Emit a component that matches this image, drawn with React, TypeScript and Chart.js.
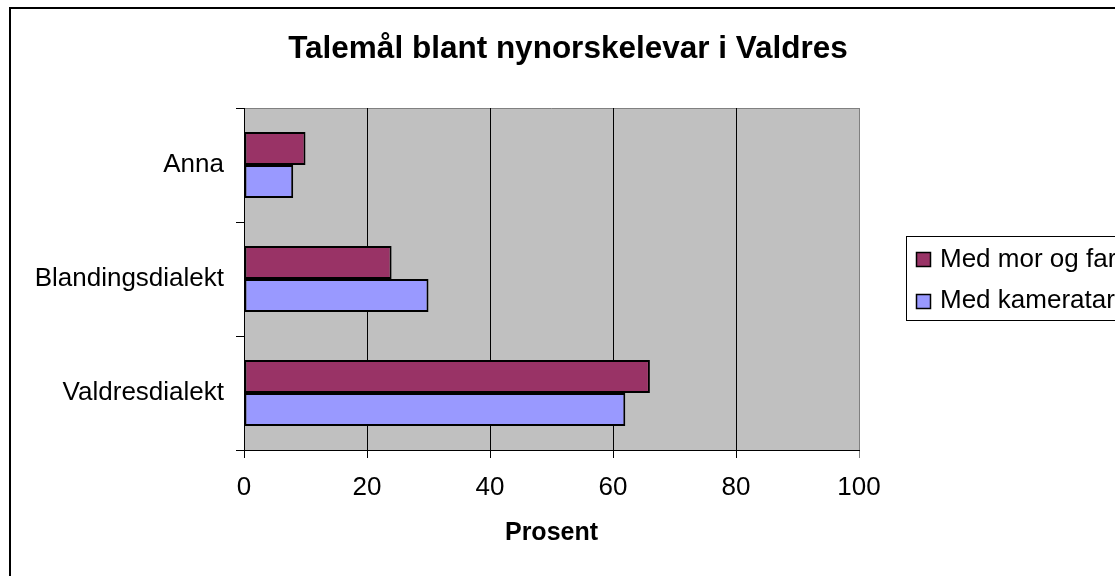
import React, { useEffect, useRef } from 'react';
import { Chart, registerables } from 'chart.js';

Chart.register(...registerables);

const categories = ['Anna', 'Blandingsdialekt', 'Valdresdialekt'];
const seriesNames = ['Med mor og far', 'Med kameratar'];
const morOgFar = [10, 24, 66];
const kameratar = [8, 30, 62];
const xTickValues = [0, 20, 40, 60, 80, 100];
const seriesColors = ['#993366', '#9999FF'];
const chartTitle = 'Talemål blant nynorskelevar i Valdres';
const xAxisTitle = 'Prosent';

const FONT = 'Arial, "Liberation Sans", Helvetica, sans-serif';

const plotBackground = {
  id: 'plotBackground',
  beforeDraw(chart: any) {
    const { ctx, chartArea } = chart;
    ctx.save();
    ctx.fillStyle = '#C0C0C0';
    ctx.fillRect(chartArea.left, chartArea.top, chartArea.right - chartArea.left, chartArea.bottom - chartArea.top);
    ctx.strokeStyle = '#808080';
    ctx.lineWidth = 1;
    ctx.beginPath();
    ctx.moveTo(chartArea.left, chartArea.top + 0.5);
    ctx.lineTo(chartArea.right, chartArea.top + 0.5);
    ctx.stroke();
    ctx.restore();
  },
};

const frameAndLegend = {
  id: 'frameAndLegend',
  afterDraw(chart: any) {
    const { ctx } = chart;
    ctx.save();
    // outer frame (extends beyond the visible page)
    ctx.strokeStyle = '#000';
    ctx.lineWidth = 2;
    ctx.strokeRect(10, 8, 2000, 2000);
    // legend box
    ctx.lineWidth = 1;
    ctx.strokeRect(906.5, 236.5, 300, 84);
    ctx.font = `26px ${FONT}`;
    ctx.textBaseline = 'alphabetic';
    ctx.textAlign = 'left';
    chart.data.datasets.forEach((ds: any, i: number) => {
      const top = 252 + i * 42;
      ctx.fillStyle = ds.backgroundColor;
      ctx.fillRect(916, top, 15, 15);
      ctx.strokeStyle = '#000';
      ctx.lineWidth = 1.5;
      ctx.strokeRect(916.5, top + 0.5, 14, 14);
      ctx.fillStyle = '#000';
      ctx.fillText(ds.label, 940, 267 + i * 41);
    });
    ctx.restore();
  },
};

export default function App() {
  const canvasRef = useRef<HTMLCanvasElement | null>(null);

  useEffect(() => {
    document.body.style.margin = '0';
    const canvas = canvasRef.current;
    if (!canvas) return;
    const chart = new Chart(canvas, {
      type: 'bar',
      data: {
        labels: categories,
        datasets: [
          {
            label: seriesNames[0],
            data: morOgFar,
            backgroundColor: seriesColors[0],
            borderColor: '#000',
            borderWidth: 2,
            borderSkipped: false,
            barPercentage: 1,
            categoryPercentage: 0.58,
          },
          {
            label: seriesNames[1],
            data: kameratar,
            backgroundColor: seriesColors[1],
            borderColor: '#000',
            borderWidth: 2,
            borderSkipped: false,
            barPercentage: 1,
            categoryPercentage: 0.58,
          },
        ],
      },
      options: {
        indexAxis: 'y',
        responsive: false,
        animation: false,
        devicePixelRatio: 1,
        layout: { padding: { left: 21, right: 0, top: 0, bottom: 0 } },
        plugins: {
          legend: { display: false },
          tooltip: { enabled: false },
          title: {
            display: true,
            text: chartTitle,
            color: '#000',
            font: { family: FONT, size: 31.5, weight: 'bold' },
            padding: { top: 30.1, bottom: 40.1 },
          },
        },
        scales: {
          x: {
            type: 'linear',
            position: 'bottom',
            min: 0,
            max: 100,
            afterBuildTicks: (scale: any) => {
              scale.ticks = xTickValues.map((v) => ({ value: v }));
            },
            afterFit: (scale: any) => {
              scale.height = 126;
            },
            ticks: {
              color: '#000',
              font: { family: FONT, size: 26 },
              padding: 14,
            },
            grid: {
              color: (c: any) => (c.tick && c.tick.value === 100 ? '#808080' : '#000'),
              lineWidth: 1,
              tickLength: 8,
              drawTicks: true,
            },
            border: { display: true, color: '#000', width: 1 },
            title: {
              display: true,
              text: xAxisTitle,
              color: '#000',
              font: { family: FONT, size: 25, weight: 'bold' },
              padding: { top: 0, bottom: 28 },
            },
          },
          y: {
            type: 'category',
            position: 'left',
            afterFit: (scale: any) => {
              scale.width = 223;
            },
            ticks: {
              color: '#000',
              font: { family: FONT, size: 26 },
              padding: 12,
            },
            grid: {
              drawOnChartArea: false,
              drawTicks: true,
              tickLength: 8,
              color: '#000',
              offset: true,
            },
            border: { display: true, color: '#000', width: 1 },
          },
          y2: {
            type: 'category',
            position: 'right',
            display: true,
            afterFit: (scale: any) => {
              scale.width = 256;
            },
            ticks: { display: false },
            grid: { display: false },
            border: { display: false },
          },
        },
      },
      plugins: [plotBackground, frameAndLegend],
    } as any);
    return () => chart.destroy();
  }, []);

  return (
    <div style={{ width: 1115, height: 576, background: '#fff' }}>
      <canvas ref={canvasRef} width={1115} height={576} style={{ display: 'block' }} />
    </div>
  );
}
